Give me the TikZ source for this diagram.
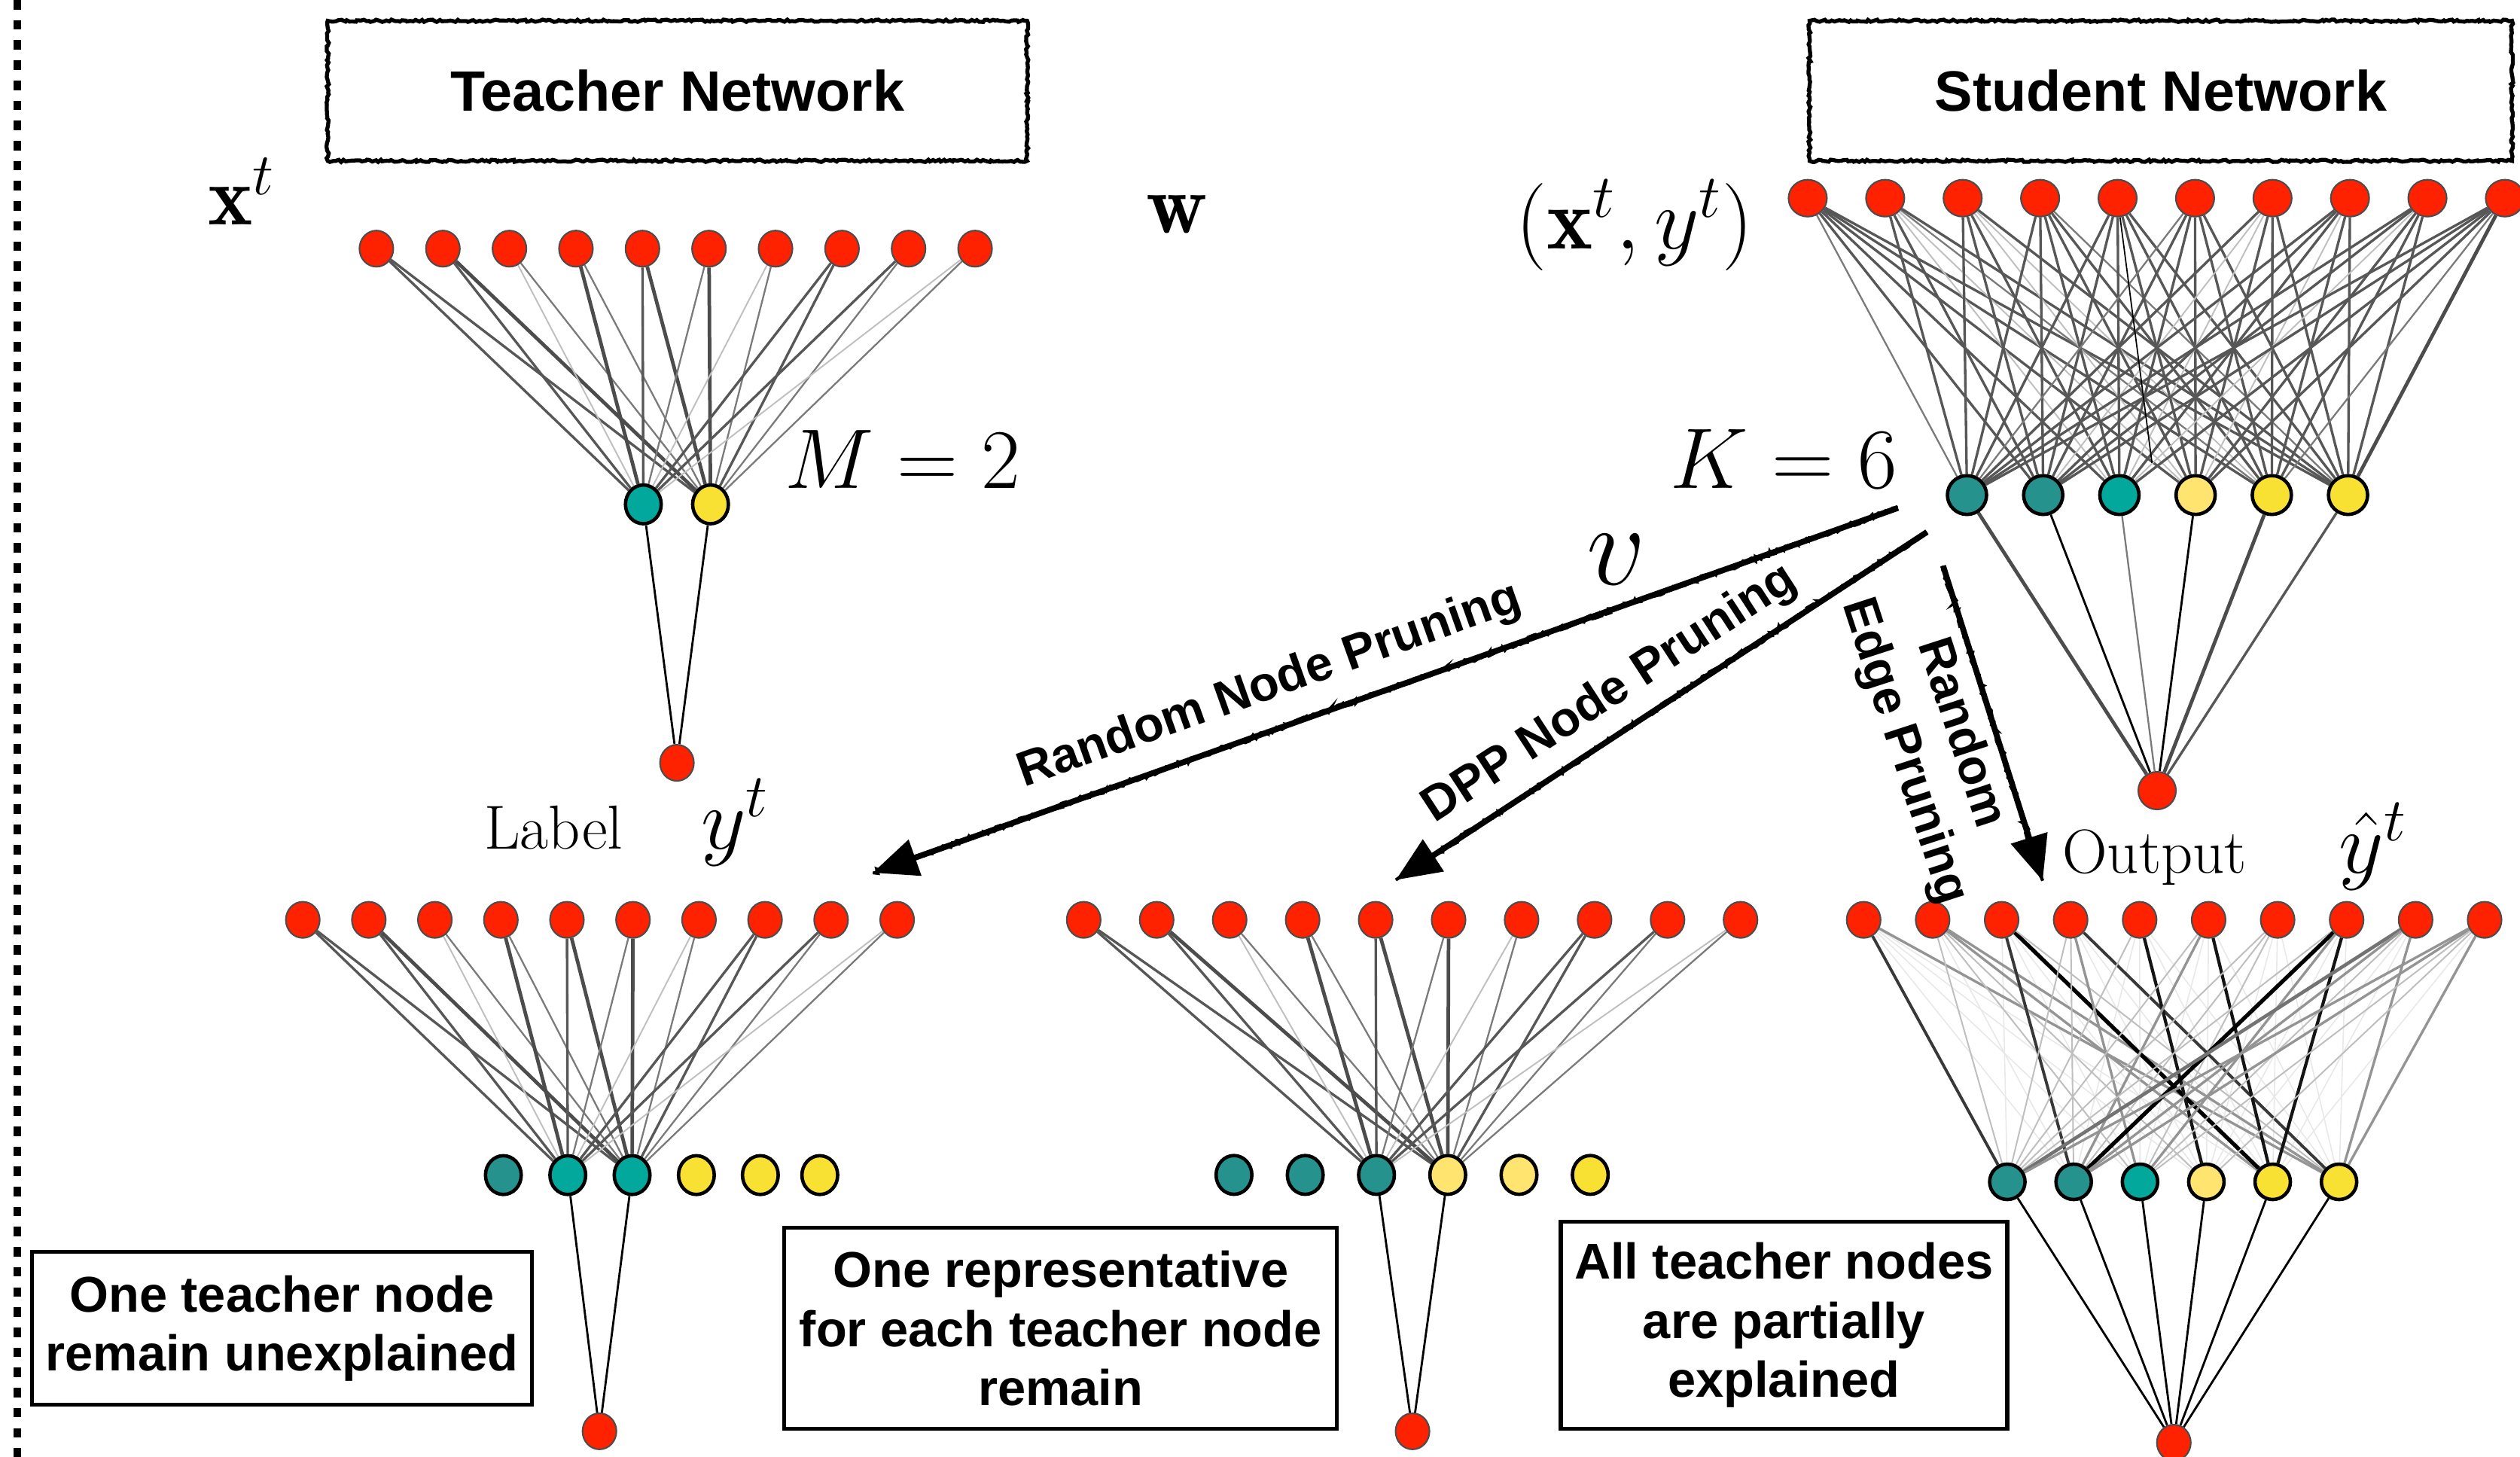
\documentclass[tikz,border=0pt]{standalone}
\usepackage{fix-cm}
\usepackage{fontspec}
\newfontfamily\hv{Liberation Sans}
\usetikzlibrary{shapes.geometric, arrows.meta, decorations.pathmorphing}

\definecolor{nred}{RGB}{255,34,0}
\definecolor{tealdk}{RGB}{37,146,142}
\definecolor{tealmd}{RGB}{2,168,156}
\definecolor{yellt}{RGB}{255,228,112}
\definecolor{yeldk}{RGB}{248,225,51}

\pgfdeclarelayer{edgelayer}
\pgfsetlayers{edgelayer,main}

\tikzset{
  inode/.style={ellipse, draw=black!70, line width=0.6pt, fill=nred, inner sep=0pt,
                minimum width=4.5mm, minimum height=4.8mm},
  snode/.style={inode, minimum width=5.1mm, minimum height=4.9mm},
  hnode/.style={ellipse, draw=black, line width=1.3pt, inner sep=0pt,
                minimum width=4.75mm, minimum height=5.15mm},
  shnode/.style={hnode, minimum width=5.2mm, minimum height=5.15mm},
  chnode/.style={hnode, minimum width=4.7mm, minimum height=4.7mm},
  eFaint/.style={draw=black!9, line width=0.45pt},
  eLight/.style={draw=black!25, line width=0.55pt},
  eMid/.style={draw=black!52, line width=0.65pt},
  eDark/.style={draw=black!66, line width=0.95pt},
  eThick/.style={draw=black!70, line width=1.35pt},
  eGrey/.style={draw=black!42, line width=0.95pt},
  eGreyT/.style={draw=black!55, line width=1.3pt},
  eDeep/.style={draw=black!78, line width=1.1pt},
  eBlk/.style={draw=black!92, line width=1.2pt},
  eBlkT/.style={draw=black, line width=1.5pt},
  eOut/.style={draw=black, line width=0.8pt},
  titlebox/.style={draw, line width=1.5pt, inner sep=0pt, decorate,
                   decoration={random steps, segment length=1pt, amplitude=0.45pt},
                   font=\hv\bfseries\fontsize{21.5}{25}\selectfont},
  notebox/.style={draw, line width=1.5pt, inner sep=0pt, align=center,
                  font=\hv\bfseries\fontsize{19}{22.4}\selectfont},
  albl/.style={inner sep=0pt, align=center, font=\hv\bfseries\fontsize{18.5}{22.5}\selectfont},
  mlbl/.style={anchor=base west, inner sep=0pt, font=\fontsize{32}{38}\selectfont},
  rlbl/.style={anchor=base west, inner sep=0pt, font=\fontsize{23.5}{28}\selectfont},
  arw/.style={line width=2.2pt, -{Triangle[length=17pt, width=14pt]}},
  rough/.style={line width=1.2pt, decorate,
                decoration={random steps, segment length=1.2pt, amplitude=0.9pt}},
}

\begin{document}
\begin{tikzpicture}[x=0.21346mm, y=-0.21346mm]
\useasboundingbox (0,0) rectangle (1568,906.5);
\clip (0,0) rectangle (1568,906.5);

% separator on the left
\coordinate (sepTop) at (10.7,0);
\coordinate (sepBot) at (10.7,906.5);
\draw[line width=3pt, dash pattern=on 3.6pt off 4pt] (sepTop) -- (sepBot);

% title boxes
\node[titlebox, minimum width=92.9mm, minimum height=18.6mm] (tbox) at (421.5,56.5) {Teacher Network};
\node[titlebox, minimum width=93.3mm, minimum height=18.6mm] (sbox) at (1344.5,56.5) {Student Network};

% ---------------- teacher network ----------------
\foreach \i in {1,...,10}
  \node[inode] (t\i) at ({234.2+41.39*(\i-1)},154.7) {};
\node[hnode, fill=tealmd] (th1) at (400.3,313.8) {};
\node[hnode, fill=yeldk] (th2) at (442.1,313.8) {};
\node[inode] (tout) at (421.2,474.6) {};

% ---------------- student network ----------------
\foreach \i in {1,...,10}
  \node[snode] (s\i) at ({1124.8+48.2*(\i-1)},123.3) {};
\foreach \k/\c in {1/tealdk,2/tealdk,3/tealmd,4/yellt,5/yeldk,6/yeldk}
  \node[shnode, fill=\c] (sh\k) at ({1223.9+47.42*(\k-1)},308) {};
\node[snode, minimum width=5mm, minimum height=5mm] (sout) at (1342.2,491.9) {};
\coordinate (sstray) at (1339,288);

% ---------------- random node pruning result ----------------
\foreach \i in {1,...,10}
  \node[inode] (a\i) at ({188.4+41.09*(\i-1)},572.3) {};
\foreach \k/\c/\x in {1/tealdk/313.2,2/tealmd/353.3,3/tealmd/393.3,4/yeldk/433.3,5/yeldk/473.1,6/yeldk/510.1}
  \node[hnode, fill=\c] (ah\k) at (\x,731.1) {};
\node[inode] (aout) at (373,890.5) {};

% ---------------- DPP node pruning result ----------------
\foreach \i in {1,...,10}
  \node[inode] (b\i) at ({674.3+45.41*(\i-1)},572.3) {};
\foreach \k/\c in {1/tealdk,2/tealdk,3/tealdk,4/yellt,5/yellt,6/yeldk}
  \node[hnode, fill=\c] (bh\k) at ({767.8+44.34*(\k-1)},731) {};
\node[inode] (bout) at (878.9,890.5) {};

% ---------------- random edge pruning result ----------------
\foreach \i in {1,...,10}
  \node[inode] (c\i) at ({1159.6+42.93*(\i-1)},572.3) {};
\foreach \k/\c in {1/tealdk,2/tealdk,3/tealmd,4/yellt,5/yeldk,6/yeldk}
  \node[chnode, fill=\c] (ch\k) at ({1249+41.28*(\k-1)},735.3) {};
\node[inode] (cout) at (1352.6,897.6) {};

% ---------------- weighted connections ----------------
\begin{pgfonlayer}{edgelayer}
  % teacher weights, repeated by the two node-pruned students
  \foreach \p/\ha/\hb in {t/th1/th2, a/ah2/ah3, b/bh3/bh4}{
    \foreach \i/\sa/\sb in {1/eDark/eDark, 2/eDark/eThick, 3/eLight/eMid, 4/eThick/eMid,
                            5/eDark/eThick, 6/eMid/eThick, 7/eLight/eMid, 8/eDark/eDark,
                            9/eDark/eMid, 10/eLight/eMid}{
      \draw[\sa] (\p\i) -- (\ha);
      \draw[\sb] (\p\i) -- (\hb);
    }
  }
  \foreach \h in {th1,th2} \draw[eOut] (\h) -- (tout);
  \foreach \h in {ah2,ah3} \draw[eOut] (\h) -- (aout);
  \foreach \h in {bh3,bh4} \draw[eOut] (\h) -- (bout);

  % student weights
  \foreach \i/\row in {1/{eMid,eDark,eDark,eDark,eDark,eDark},
                       2/{eDark,eDark,eLight,eLight,eMid,eDark},
                       3/{eDark,eDark,eDark,eLight,eLight,eDark},
                       4/{eDark,eDark,eDark,eDark,eDark,eMid},
                       5/{eDark,eDark,eDark,eDark,eDark,eDark},
                       6/{eMid,eDark,eDark,eDark,eDark,eDark},
                       7/{eDark,eLight,eLight,eDark,eDark,eDark},
                       8/{eDark,eDark,eDark,eLight,eDark,eDark},
                       9/{eDark,eDark,eLight,eDark,eDark,eDark},
                       10/{eDark,eDark,eDark,eDark,eMid,eThick}}{
    \foreach \st [count=\k] in \row
      \draw[\st] (s\i) -- (sh\k);
  }
  \draw[draw=black, line width=0.5pt] (s5) -- (sstray);
  \foreach \h/\st in {sh1/eThick, sh2/eOut, sh3/eMid, sh4/eOut, sh5/eThick, sh6/eDark}
    \draw[\st] (\h) -- (sout);

  % edge-pruned student: faint background weights, then surviving ones
  \foreach \i in {1,...,10}
    \foreach \k in {1,...,6}
      \draw[eFaint] (c\i) -- (ch\k);
  \foreach \i/\k/\st in {1/1/eDeep, 1/6/eGrey, 2/1/eLight, 2/3/eLight, 2/4/eLight, 2/5/eGrey, 2/6/eGrey,
                         3/2/eDeep, 3/5/eBlkT, 3/6/eLight, 4/1/eLight, 4/2/eLight, 4/3/eGrey, 4/6/eDeep,
                         5/1/eLight, 5/4/eBlk, 6/1/eLight, 6/2/eGrey, 6/5/eBlk,
                         7/1/eLight, 7/2/eLight, 7/3/eLight, 8/1/eLight, 8/2/eBlkT, 8/3/eGrey, 8/5/eBlk,
                         9/1/eGreyT, 9/2/eGrey, 9/3/eLight, 9/6/eGrey,
                         10/1/eGrey, 10/2/eGrey, 10/3/eLight, 10/4/eLight, 10/6/eGrey}
    \draw[\st] (c\i) -- (ch\k);
  \foreach \k in {1,...,6}
    \draw[eOut] (ch\k) -- (cout);
\end{pgfonlayer}

% ---------------- math labels ----------------
\node[mlbl] (lx) at (129,140) {$\mathbf{x}^t$};
\node[mlbl] (lw) at (713,145) {$\mathbf{w}$};
\node[mlbl, font=\fontsize{33}{38}\selectfont] (lxy) at (943,155) {$(\mathbf{x}^t,y^t)$};
\node[mlbl] (lm) at (488,304) {$M=2$};
\node[mlbl, font=\fontsize{32.5}{38}\selectfont] (lk) at (1039,304) {$K=6$};
\node[mlbl, font=\fontsize{44}{50}\selectfont] (lv) at (987,364) {$v$};
\node[rlbl] (llab) at (301,528) {Label};
\node[mlbl, font=\fontsize{33}{38}\selectfont] (ly) at (436,528) {$y^t$};
\node[rlbl] (lout) at (1283,543) {Output};
\node[mlbl, font=\fontsize{33}{38}\selectfont] (lyh) at (1455,543) {$\hat{y}^t$};

% ---------------- pruning arrows ----------------
\coordinate (p1s) at (1181,316);  \coordinate (p1e) at (543,543);
\coordinate (p2s) at (1199,331);  \coordinate (p2e) at (868.5,547.5);
\coordinate (p3s) at (1209,352);  \coordinate (p3e) at (1271,548);
\foreach \n in {1,2,3}{
  \draw[arw] (p\n s) -- (p\n e);
  \draw[rough] (p\n s) -- (p\n e);
}
\node[albl, rotate=19.6] (l1) at (790,427) {Random Node Pruning};
\node[albl, rotate=33.1] (l2) at (1002,432) {DPP Node Pruning};
\node[albl, rotate=-72] (l3) at (1202,462) {Random\\Edge Pruning};

% ---------------- outcome boxes ----------------
\node[notebox, minimum width=66.4mm, minimum height=20.3mm] (n1) at (175.4,826.5)
  {One teacher node\\remain unexplained};
\node[notebox, minimum width=73.4mm, minimum height=26.7mm] (n2) at (660,826.5)
  {One representative\\for each teacher node\\remain};
\node[notebox, minimum width=59.3mm, minimum height=27.5mm] (n3) at (1110,824.5)
  {All teacher nodes\\are partially\\explained};
\end{tikzpicture}
\end{document}
